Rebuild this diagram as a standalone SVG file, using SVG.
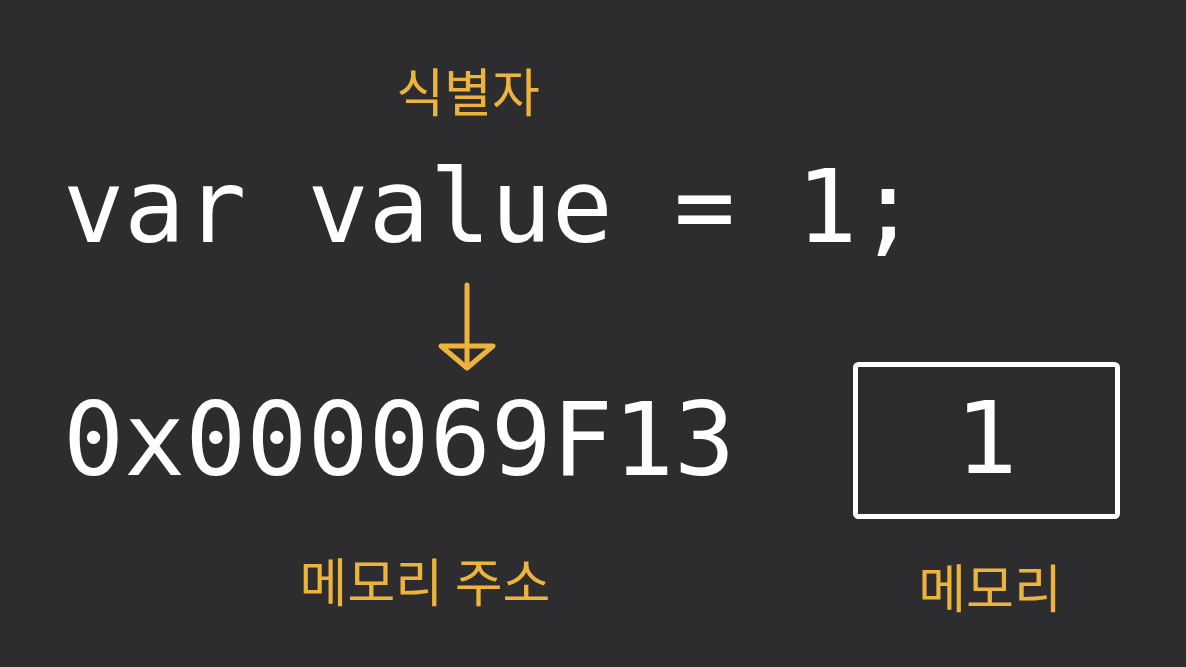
<svg xmlns="http://www.w3.org/2000/svg" width="1186" height="667" viewBox="0 0 1186 667">
<style>
.code{font-family:"DejaVu Sans Mono","Liberation Mono",monospace;fill:#ffffff;font-size:101.5px;font-variant-numeric:slashed-zero}
.lbl{font-family:"Noto Sans CJK KR","Noto Sans",sans-serif;fill:#EDB43C;font-size:52px}
</style>
<rect width="1186" height="667" fill="#2D2D2F"/>
<g id="identifier-label"><text class="lbl" x="468" y="112" text-anchor="middle">식별자</text></g>
<g id="code-line"><text class="code" x="63" y="242">var value = 1;</text></g>
<g id="address"><text class="code" x="63" y="475">0x000069F13</text></g>
<g id="memory-box">
<rect x="855.5" y="364.5" width="262" height="152" rx="3" fill="none" stroke="#ffffff" stroke-width="5"/>
<text class="code" x="988" y="473" text-anchor="middle" style="font-family:'DejaVu Sans',sans-serif;font-size:100px">1</text>
</g>
<g id="address-label"><text class="lbl" x="425" y="602" text-anchor="middle">메모리 주소</text></g>
<g id="memory-label"><text class="lbl" x="990" y="608" text-anchor="middle">메모리</text></g>
<g id="connectors">
<line x1="467" y1="285" x2="467" y2="364" stroke="#EDB43C" stroke-width="5" stroke-linecap="round"/>
<polygon points="441,346 493,346 467,368" fill="none" stroke="#EDB43C" stroke-width="5" stroke-linejoin="round"/>
</g>
</svg>
